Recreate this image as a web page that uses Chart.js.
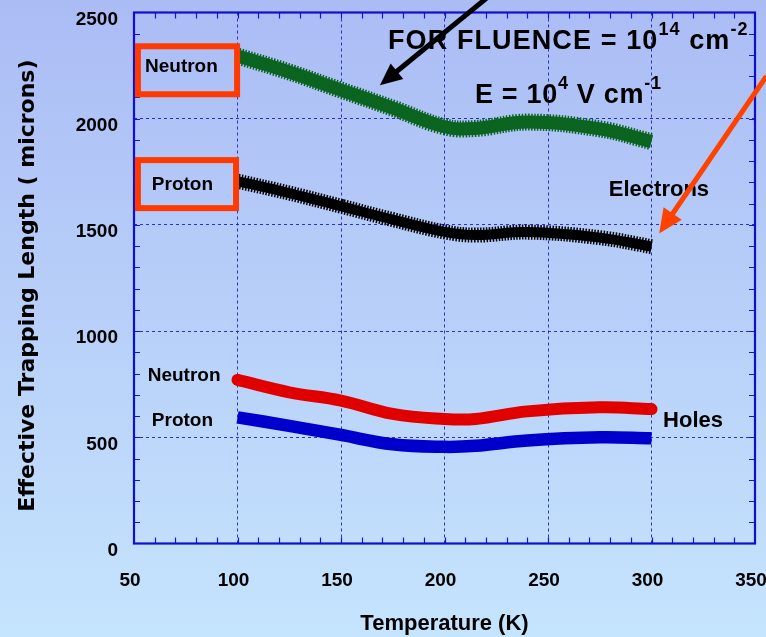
<!DOCTYPE html>
<html>
<head>
<meta charset="utf-8">
<script src="https://cdn.jsdelivr.net/npm/chart.js@4.4.1/dist/chart.umd.min.js"></script>
<style>
  html, body { margin: 0; padding: 0; background: #c4e2fc; }
  #wrap { width: 766px; height: 637px; position: relative; }
</style>
</head>
<body>
<div id="wrap"><canvas id="c"></canvas></div>
<script>
// Temperature samples (K) shared by all four curves
const temperatures = [100, 125, 150, 175, 200, 215, 240, 275, 300];

// Effective trapping length (microns), fluence 1e14 cm^-2, E = 1e4 V/cm
const electronsNeutron = [2295, 2220, 2135, 2050, 1962, 1954, 1984, 1952, 1892];
const electronsProton  = [1706, 1650, 1588, 1525, 1467, 1452, 1466, 1440, 1398];
const holesNeutron     = [770, 712, 673, 610, 586, 586, 622, 641, 633];
const holesProton      = [594, 554, 511, 467, 455, 460, 485, 500, 495];

// Axis ranges and major tick spacing
const xRange = [50, 350];
const yRange = [0, 2500];
const xStep = 50;
const yStep = 500;

function points(values) {
  return temperatures.map((t, i) => ({ x: t, y: values[i] }));
}

const BOLD = "'Liberation Sans', Arial, sans-serif";

// Gradient backdrop behind the whole figure
const backdrop = {
  id: 'backdrop',
  beforeDraw(chart) {
    const { ctx, width, height } = chart;
    const g = ctx.createLinearGradient(0, 0, 0, height);
    g.addColorStop(0, '#abbcf5');
    g.addColorStop(1, '#c5e4fd');
    ctx.save();
    ctx.fillStyle = g;
    ctx.fillRect(0, 0, width, height);
    ctx.restore();
  }
};

// Inward minor ticks on all four sides plus the solid frame
const frame = {
  id: 'frame',
  beforeDatasetsDraw(chart) {
    const { ctx, chartArea: a, scales: { x, y } } = chart;
    ctx.save();
    ctx.strokeStyle = '#1414d2';
    ctx.lineWidth = 1.2;
    ctx.beginPath();
    for (let t = xRange[0] + 10; t < xRange[1]; t += 10) {
      const px = Math.round(x.getPixelForValue(t)) + 0.5;
      ctx.moveTo(px, a.bottom); ctx.lineTo(px, a.bottom - 6);
      ctx.moveTo(px, a.top); ctx.lineTo(px, a.top + 6);
    }
    for (let v = yRange[0] + 100; v < yRange[1]; v += 100) {
      const py = Math.round(y.getPixelForValue(v)) + 0.5;
      ctx.moveTo(a.left, py); ctx.lineTo(a.left + 6, py);
      ctx.moveTo(a.right, py); ctx.lineTo(a.right - 6, py);
    }
    ctx.stroke();
    ctx.lineWidth = 2.2;
    ctx.strokeStyle = '#1010cc';
    ctx.strokeRect(a.left, a.top, a.right - a.left, a.bottom - a.top);
    ctx.restore();
  }
};

function arrow(ctx, x0, y0, x1, y1, color, width, headLen, headHalf) {
  const ang = Math.atan2(y1 - y0, x1 - x0);
  const bx = x1 - Math.cos(ang) * headLen;
  const by = y1 - Math.sin(ang) * headLen;
  ctx.strokeStyle = color;
  ctx.fillStyle = color;
  ctx.lineWidth = width;
  ctx.lineCap = 'butt';
  ctx.beginPath();
  ctx.moveTo(x0, y0);
  ctx.lineTo(bx + Math.cos(ang) * 2, by + Math.sin(ang) * 2);
  ctx.stroke();
  ctx.beginPath();
  ctx.moveTo(x1, y1);
  ctx.lineTo(bx - Math.sin(ang) * headHalf, by + Math.cos(ang) * headHalf);
  ctx.lineTo(bx + Math.sin(ang) * headHalf, by - Math.cos(ang) * headHalf);
  ctx.closePath();
  ctx.fill();
}

// Draws a run of text pieces; pieces flagged sup are raised and smaller
function richText(ctx, x, y, pieces, bigPx, supPx, spacing) {
  let cx = x;
  for (const p of pieces) {
    const size = p.sup ? supPx : bigPx;
    ctx.font = `bold ${size}px ${BOLD}`;
    ctx.letterSpacing = spacing + 'px';
    const dy = p.sup ? -Math.round(bigPx * 0.5) : 0;
    ctx.fillText(p.t, cx, y + dy);
    cx += ctx.measureText(p.t).width;
  }
  ctx.letterSpacing = '0px';
}

// Labels, boxes and arrows, placed in data coordinates
const notes = {
  id: 'notes',
  afterDatasetsDraw(chart) {
    const { ctx, scales: { x, y } } = chart;
    const X = t => x.getPixelForValue(t);
    const Y = v => y.getPixelForValue(v);
    ctx.save();

    // boxed source labels for the electron curves
    ctx.strokeStyle = '#ff3a00';
    ctx.lineWidth = 6;
    ctx.strokeRect(X(51.9), Y(2341), X(99.8) - X(51.9), Y(2115) - Y(2341));
    ctx.strokeRect(X(51.9), Y(1805), X(99.3) - X(51.9), Y(1579) - Y(1805));

    ctx.fillStyle = '#000';
    ctx.textAlign = 'center';
    ctx.textBaseline = 'middle';
    ctx.font = `bold 19px ${BOLD}`;
    ctx.fillText('Neutron', X(72.9), Y(2244));
    ctx.fillText('Proton', X(73.4), Y(1690));
    ctx.fillText('Neutron', X(74.2), Y(788));
    ctx.fillText('Proton', X(73.4), Y(576));

    ctx.font = `bold 22px ${BOLD}`;
    ctx.fillText('Electrons', X(303.6), Y(1666));
    ctx.textAlign = 'left';
    ctx.fillText('Holes', X(305.6), Y(576));

    ctx.textBaseline = 'alphabetic';
    richText(ctx, X(172.7), Y(2330), [
      { t: 'FOR FLUENCE = 10' }, { t: '14', sup: true }, { t: ' cm' }, { t: '-2', sup: true }
    ], 27, 18, 1.1);
    richText(ctx, X(214.7), Y(2072), [
      { t: 'E = 10' }, { t: '4', sup: true }, { t: ' V cm' }, { t: '-1', sup: true }
    ], 27, 18, 0.7);

    arrow(ctx, X(222.5), Y(2585), X(168.8), Y(2158), '#000000', 5, 22, 10);
    arrow(ctx, X(355.5), Y(2200), X(303.7), Y(1460), '#ff4200', 5, 24, 11);

    ctx.restore();
  }
};

const tickFont = { family: BOLD, size: 19, weight: 'bold' };
const gridLook = { color: 'rgba(28,28,225,0.9)', lineWidth: 1, drawTicks: false };

new Chart(document.getElementById('c'), {
  type: 'line',
  data: {
    datasets: [
      { data: points(electronsNeutron), borderColor: '#0b6420', borderWidth: 17, borderDash: [1.5, 1.5], tension: 0.4, pointRadius: 0 },
      { data: points(electronsNeutron), borderColor: '#0b6420', borderWidth: 13, tension: 0.4, pointRadius: 0 },
      { data: points(electronsProton), borderColor: '#000000', borderWidth: 15, borderDash: [1.5, 1.5], tension: 0.4, pointRadius: 0 },
      { data: points(electronsProton), borderColor: '#000000', borderWidth: 10, tension: 0.4, pointRadius: 0 },
      { data: points(holesNeutron), borderColor: '#e00000', borderWidth: 12, borderCapStyle: 'round', tension: 0.4, pointRadius: 0 },
      { data: points(holesProton), borderColor: '#0000cc', borderWidth: 12.5, borderCapStyle: 'butt', tension: 0.4, pointRadius: 0 }
    ]
  },
  options: {
    responsive: true,
    maintainAspectRatio: false,
    animation: false,
    layout: { padding: { top: 12.5, right: 11, bottom: 0, left: 0 } },
    plugins: { legend: { display: false }, tooltip: { enabled: false } },
    scales: {
      x: {
        type: 'linear',
        min: xRange[0], max: xRange[1],
        afterFit(s) { s.height = 93.5; s.paddingLeft = 0; s.paddingRight = 0; },
        grid: gridLook,
        border: { display: false, dash: [3, 3] },
        ticks: { stepSize: xStep, font: tickFont, color: '#000', padding: 26, labelOffset: -4, maxRotation: 0,
                 callback: v => String(v) },
        title: { display: true, text: 'Temperature (K)', color: '#000',
                 font: { family: BOLD, size: 22, weight: 'bold' }, padding: 0 }
      },
      y: {
        min: yRange[0], max: yRange[1],
        afterFit(s) { s.width = 134; s.paddingTop = 0; s.paddingBottom = 0; },
        grid: gridLook,
        border: { display: false, dash: [3, 3] },
        ticks: { stepSize: yStep, font: tickFont, color: '#000', padding: 16, labelOffset: 7,
                 callback: v => String(v) },
        title: { display: true, text: 'Effective Trapping Length ( microns)  ', color: '#000',
                 font: { family: "'DejaVu Sans', Verdana, sans-serif", size: 22, weight: 'bold' },
                 padding: { top: 15, bottom: 0 } }
      }
    }
  },
  plugins: [backdrop, frame, notes]
});
</script>
</body>
</html>
